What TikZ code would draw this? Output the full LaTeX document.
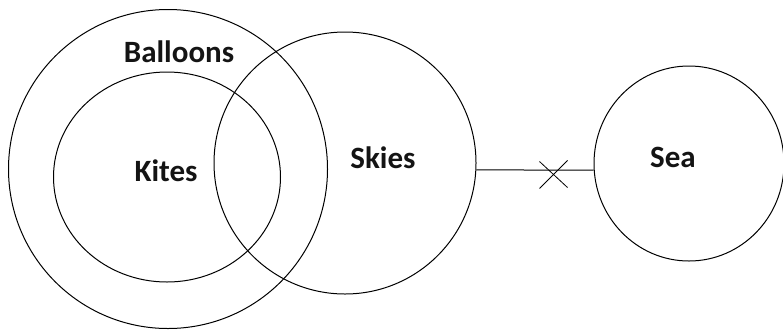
\documentclass[tikz,border=0pt]{standalone}
\usepackage{fontspec}
\setmainfont{Carlito}
\usetikzlibrary{shapes.geometric,calc}
\begin{document}
\begin{tikzpicture}[x=1pt,y=-1pt,
  ring/.style={draw=black,line width=1pt,circle,inner sep=0pt},
  oval/.style={draw=black,line width=1pt,ellipse,inner sep=0pt},
  lbl/.style={font=\fontsize{31}{33}\selectfont\bfseries,text=black!92,inner sep=0pt},
  link/.style={draw=black,line width=1pt}]
\useasboundingbox (0,0) rectangle (783,330);
\node[ring,minimum size=319pt] (balloons) at (168,169) {};
\node[oval,minimum width=227pt,minimum height=210pt] (kites) at (167,177) {};
\node[ring,minimum size=262pt] (skies) at (345,163) {};
\node[oval,minimum width=190pt,minimum height=195pt] (sea) at (689,163.5) {};
\node[lbl] (tb) at (179,52) {Balloons};
\node[lbl] (tk) at (166,171) {Kites};
\node[lbl] (ts) at (383,158) {Skies};
\node[lbl] (tsea) at (673,157) {Sea};
\draw[link] (skies.-3.5) -- (sea.184.5);
\coordinate (cx) at (553.5,174.5);
\draw[line width=0.8pt] ($(cx)+(-14,-13)$) -- ($(cx)+(14,13)$);
\draw[line width=0.8pt] ($(cx)+(14,-14)$) -- ($(cx)+(-14,14)$);
\end{tikzpicture}
\end{document}
